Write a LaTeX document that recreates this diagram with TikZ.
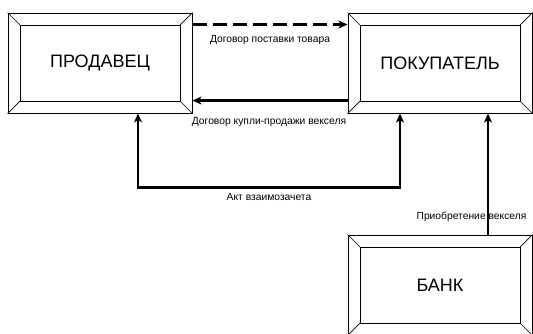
\documentclass[tikz,border=0pt]{standalone}
\usepackage{fontspec}
\setmainfont{Liberation Sans}
\usetikzlibrary{arrows.meta,calc}

\begin{document}
\begin{tikzpicture}[x=1pt,y=-1pt,>={Stealth[length=9pt,width=8pt,inset=2.5pt]},
  party/.style={draw, line width=1pt, minimum width=184pt, minimum height=100pt, inner sep=0pt, font=\fontsize{18}{20}\selectfont},
  flow/.style={line width=2.2pt},
  lbl/.style={inner sep=1pt, font=\fontsize{10.3}{12}\selectfont}]

\useasboundingbox (0,0) rectangle (533,333);

\node[party] (prod) at (100,63) {ПРОДАВЕЦ};
\node[party] (pok) at (440,63) {ПОКУПАТЕЛЬ};
\node[party] (bank) at (440,285) {БАНК};

% bevelled frames
\foreach \n in {prod,pok,bank} {
  \draw[line width=1pt] ($(\n.north west)+(12.5,12.5)$) coordinate (\n a) rectangle ($(\n.south east)+(-12.5,-12.5)$) coordinate (\n c);
  \draw[line width=0.7pt] (\n.north west) -- (\n a);
  \draw[line width=0.7pt] (\n.south east) -- (\n c);
  \draw[line width=0.7pt] (\n.north east) -- (\n a -| \n c);
  \draw[line width=0.7pt] (\n.south west) -- (\n a |- \n c);
}

\draw[flow,->,dash pattern=on 14pt off 6pt] ($(prod.north east)+(0,12)$) -- ($(pok.north west)+(0,12)$);
\node[lbl] (l1) at (270,40) {Договор поставки товара};

\draw[flow,->] ($(pok.south west)+(0,-13)$) -- ($(prod.south east)+(0,-13)$);
\node[lbl] (l2) at (269,122) {Договор купли-продажи векселя};

\draw[flow,<->] ($(prod.south)+(38,0)$) -- ++(0,74) -| ($(pok.south)+(-40,0)$);
\node[lbl] (l3) at (269,197) {Акт взаимозачета};

\node[lbl] (l4) at (471.5,217) {Приобретение векселя};
\draw[flow,->] ($(bank.north)+(48,0)$) -- ($(pok.south)+(48,0)$);

\end{tikzpicture}
\end{document}
